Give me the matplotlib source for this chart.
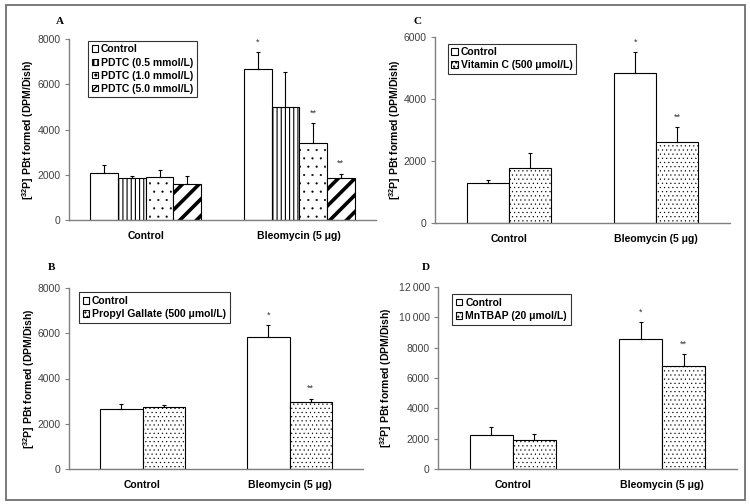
import numpy as np
import matplotlib
matplotlib.use("Agg")
import matplotlib.pyplot as plt
from matplotlib.patches import Rectangle

plt.rcParams['font.family'] = ['Liberation Sans', 'DejaVu Sans']
plt.rcParams['mathtext.fontset'] = 'custom'
plt.rcParams['mathtext.rm'] = 'Liberation Sans:bold'
plt.rcParams['mathtext.bf'] = 'Liberation Sans:bold'

groups = ["Control", "Bleomycin (5 μg)"]
ylab = r"[$^{32}$P] PBt formed (DPM/Dish)"

# panel A
a_labels = ["Control", "PDTC (0.5 mmol/L)", "PDTC (1.0 mmol/L)", "PDTC (5.0 mmol/L)"]
a_vals = [[2090, 6660], [1850, 5010], [1900, 3390], [1580, 1870]]
a_errs = [[340, 780], [80, 1530], [300, 910], [350, 180]]
a_stars = [["", "*"], ["", ""], ["", "**"], ["", "**"]]
a_ticks = [0, 2000, 4000, 6000, 8000]

# panel B
b_labels = ["Control", "Propyl Gallate (500 μmol/L)"]
b_vals = [[2670, 5830], [2740, 2980]]
b_errs = [[190, 540], [80, 130]]
b_stars = [["", "*"], ["", "**"]]
b_ticks = [0, 2000, 4000, 6000, 8000]

# panel C
c_labels = ["Control", "Vitamin C (500 μmol/L)"]
c_vals = [[1275, 4830], [1760, 2620]]
c_errs = [[115, 680], [510, 470]]
c_stars = [["", "*"], ["", "**"]]
c_ticks = [0, 2000, 4000, 6000]

# panel D
d_labels = ["Control", "MnTBAP (20 μmol/L)"]
d_vals = [[2250, 8590], [1940, 6780]]
d_errs = [[520, 1100], [370, 800]]
d_stars = [["", "*"], ["", "**"]]
d_ticks = [0, 2000, 4000, 6000, 8000, 10000, 12000]
d_ticklabels = ["0", "2000", "4000", "6000", "8000", "10\u2009000", "12\u2009000"]

W, H = 750, 504
fig = plt.figure(figsize=(7.5, 5.04), dpi=100)
fig.patches.append(Rectangle((6 / W, 1 - 500 / H), 739 / W, 495 / H, transform=fig.transFigure,
                             fill=False, edgecolor='#707070', lw=1.3))


def px(l, r, t, b):
    return [l / W, 1 - b / H, (r - l) / W, (b - t) / H]


def panel(rect, letter, letter_xy, labels, vals, errs, stars, hatches, hlw, ticks, ticklabels,
          width, leg_xy, ylab_x):
    ax = fig.add_axes(rect)
    n = len(labels)
    x = np.arange(len(groups))
    for i in range(n):
        xi = x + (i - (n - 1) / 2) * width
        bars = ax.bar(xi, vals[i], width, color='white', edgecolor='black', lw=0.8,
                      hatch=hatches[i], label=labels[i], zorder=2)
        for b in bars:
            b.set_hatch_linewidth(hlw[i])
        ax.errorbar(xi, vals[i], yerr=[np.zeros(len(groups)), errs[i]], fmt='none',
                    ecolor='black', elinewidth=0.8, capsize=1.5, capthick=0.8, zorder=3)
        for j in range(len(groups)):
            if stars[i][j]:
                ax.text(xi[j], vals[i][j] + errs[i][j] + ticks[-1] * 0.03, stars[i][j],
                        ha='center', va='bottom', fontsize=6.5, color='#333333')
    ax.set_xlim(-0.5, 1.5)
    ax.set_ylim(ticks[0], ticks[-1])
    ax.set_yticks(ticks)
    ax.set_yticklabels(ticklabels, fontsize=7.5, color='#404040')
    ax.set_xticks(x)
    ax.set_xticklabels(groups, fontsize=7.5, fontweight='bold')
    ax.tick_params(axis='x', length=0, pad=8)
    ax.tick_params(axis='y', length=3, width=0.8, color='#808080', pad=3)
    for s in ['top', 'right']:
        ax.spines[s].set_visible(False)
    for s in ['left', 'bottom']:
        ax.spines[s].set_color('#808080')
        ax.spines[s].set_linewidth(1.0)
    ax.set_ylabel(ylab, fontsize=7.5, fontweight='bold')
    bb = rect
    ax.yaxis.set_label_coords((ylab_x / W - bb[0]) / bb[2], 0.5)
    leg = ax.legend(loc='upper left', bbox_to_anchor=leg_xy, frameon=True,
                    fancybox=False, edgecolor='black', handlelength=0.6, handleheight=0.6,
                    handletextpad=0.3, labelspacing=0.3, borderpad=0.35, borderaxespad=0,
                    prop={'weight': 'bold', 'size': 7.5})
    leg.get_frame().set_linewidth(0.8)
    fig.text(letter_xy[0] / W, 1 - letter_xy[1] / H, letter, family=['Liberation Serif', 'DejaVu Serif'],
             fontweight='bold', fontsize=8, ha='center', va='center')
    return ax


panel(px(69, 376, 39, 220), "A", (60, 22), a_labels, a_vals, a_errs, a_stars,
      ['', '||||', '..', '//'], [1, 0.8, 0.3, 2.6], a_ticks, [str(t) for t in a_ticks],
      0.18, (0.062, 0.99), 36)
panel(px(69, 363, 288, 469), "B", (51, 268), b_labels, b_vals, b_errs, b_stars,
      ['', '....'], [1, 0.35], b_ticks, [str(t) for t in b_ticks],
      0.29, (0.034, 0.976), 37)
panel(px(435, 730, 37, 223), "C", (418, 21), c_labels, c_vals, c_errs, c_stars,
      ['', '....'], [1, 0.35], c_ticks, [str(t) for t in c_ticks],
      0.286, (0.043, 0.964), 403)
panel(px(438, 737, 287, 469), "D", (426, 268), d_labels, d_vals, d_errs, d_stars,
      ['', '....'], [1, 0.35], d_ticks, d_ticklabels,
      0.287, (0.048, 0.961), 394)

fig.savefig("out.png", dpi=100)
